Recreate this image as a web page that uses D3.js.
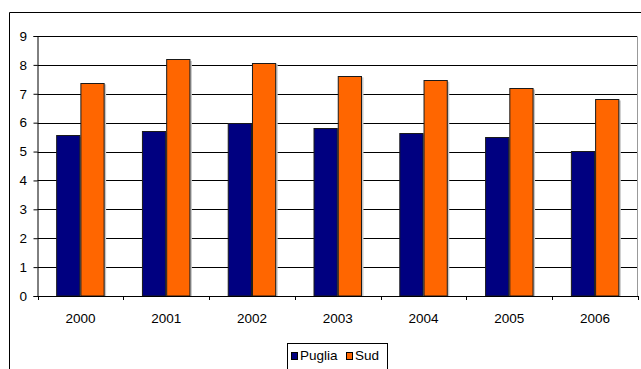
<!DOCTYPE html>
<html><head><meta charset="utf-8">
<script src="https://cdn.jsdelivr.net/npm/d3@7"></script>
<style>body{margin:0;background:#fff}svg{display:block;font-family:"Liberation Sans",Arial,sans-serif}</style>
</head><body><svg id="c" width="641" height="369"></svg>
<script>
const categories = ["2000","2001","2002","2003","2004","2005","2006"];
const seriesNames = ["Puglia","Sud"];
const puglia = [5.56, 5.71, 5.98, 5.80, 5.64, 5.49, 5.03];
const sud = [7.38, 8.19, 8.08, 7.62, 7.47, 7.20, 6.82];
const yTicks = [0,1,2,3,4,5,6,7,8,9];
const colors = ["#000080","#FF6600"];

const svg = d3.select("#c");
const m = {l:37.5, r:638, t:36, b:296};
const x = d3.scaleBand().domain(categories).range([m.l, m.r]).paddingInner(0.435).paddingOuter(0.2175);
const xs = d3.scaleBand().domain(seriesNames).range([0, x.bandwidth()]);
const y = d3.scaleLinear().domain([0,9]).range([m.b, m.t]);
const FS = 13.5;

// outer frame
svg.append("path").attr("d","M9.5,375V12.5H645").attr("fill","none").attr("stroke","#000").attr("stroke-width",1);
// plot area border
svg.append("path").attr("d",`M${m.l},${m.t+0.5}H${m.r-0.5}V${m.b}`).attr("fill","none").attr("stroke","#999").attr("stroke-width",1);

// gridlines
svg.append("g").selectAll("line").data(yTicks.filter(d=>d>0)).join("line")
  .attr("x1",m.l).attr("x2",m.r-1).attr("y1",d=>Math.round(y(d))+0.5).attr("y2",d=>Math.round(y(d))+0.5)
  .attr("stroke","#000").attr("stroke-width",1);

const data = categories.map((c,i)=>({c, vals:[puglia[i], sud[i]]}));
const g = svg.append("g");
data.forEach(d=>{
  d.vals.forEach((v,j)=>{
    const bx = x(d.c)+xs(seriesNames[j]);
    g.append("rect").attr("x",bx+1.5).attr("y",y(v)+1.5).attr("width",xs.bandwidth()).attr("height",m.b-y(v)-1.5).attr("fill","#c8c8c8");
    g.append("rect").attr("x",bx+0.5).attr("y",Math.round(y(v))+0.5).attr("width",xs.bandwidth()-1).attr("height",m.b-Math.round(y(v))-0.5)
      .attr("fill",colors[j]).attr("stroke","#1a1a1a").attr("stroke-width",1);
  });
});

// y axis
const ya = d3.axisLeft(y).tickValues(yTicks).tickSize(4).tickFormat(d3.format("d"));
const yg = svg.append("g").attr("transform",`translate(${m.l},0)`).call(ya);
yg.attr("font-family",null).attr("font-size",null);
yg.select(".domain").attr("stroke","#000");
yg.selectAll("text").style("font-size",FS+"px").attr("fill","#000").attr("x",-10.5);
yg.selectAll(".tick line").attr("stroke","#000");

// x axis
const xa = d3.axisBottom(x).tickSize(0).tickSizeOuter(0);
const xg = svg.append("g").attr("transform",`translate(0,${m.b})`).call(xa);
xg.attr("font-family",null).attr("font-size",null);
xg.select(".domain").attr("d",`M${m.l},0.5H${m.r}`).attr("stroke","#000");
xg.selectAll("text").style("font-size",FS+"px").attr("fill","#000").attr("y",27).attr("dy",0);
svg.append("g").selectAll("line").data(d3.range(categories.length+1)).join("line")
  .attr("x1",i=>Math.round(m.l+i*(m.r-m.l)/categories.length)+0.5).attr("x2",i=>Math.round(m.l+i*(m.r-m.l)/categories.length)+0.5)
  .attr("y1",m.b).attr("y2",m.b+4).attr("stroke","#000");

// legend
const lg = svg.append("g");
lg.append("rect").attr("x",287.5).attr("y",343.5).attr("width",100).attr("height",30).attr("fill","#fff").attr("stroke","#000");
const lx = [291.5, 346.5];
seriesNames.forEach((s,i)=>{
  lg.append("rect").attr("x",lx[i]).attr("y",352.5).attr("width",6).attr("height",7).attr("fill",colors[i]).attr("stroke","#000");
  lg.append("text").attr("x",lx[i]+8.5).attr("y",360).style("font-size",FS+"px").text(s);
});
</script></body></html>
